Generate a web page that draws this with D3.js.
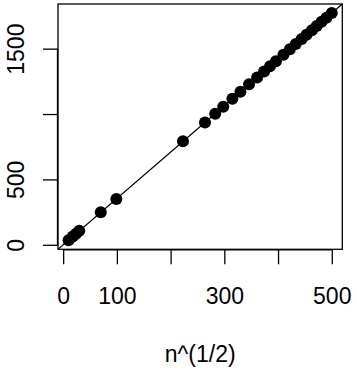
<!DOCTYPE html>
<html>
<head>
<meta charset="utf-8">
<script src="https://cdn.jsdelivr.net/npm/d3@7"></script>
<style>
  body { margin: 0; background: #fff; }
  text { font-family: "Liberation Sans", Arial, sans-serif; fill: #000; }
</style>
</head>
<body>
<svg id="chart" width="357" height="374"></svg>
<script>
// points
const xVals = [10, 18, 24, 30, 70, 99, 223, 264, 283, 298, 315, 330, 346, 361, 374,
  385, 396, 410, 422, 433, 444, 453, 463, 472, 481, 490, 500];
const yVals = [35, 64, 85, 108, 248, 351, 791, 936, 1003, 1056, 1117, 1170, 1227, 1280, 1326,
  1365, 1404, 1453, 1496, 1535, 1574, 1606, 1641, 1673, 1705, 1737, 1772];
const lineSlope = 3.545;  // reference line through origin
const xTicks = [0, 100, 200, 300, 400, 500];
const xTickLabels = ['0', '100', '', '300', '', '500'];
const yTicks = [0, 500, 1000, 1500];
const yTickLabels = ['0', '500', '', '1500'];
const xTitle = 'n^(1/2)';

const svg = d3.select('svg#chart');
const plotLeft = 58, plotRight = 342.3, plotTop = 4, plotBottom = 249.3;
const fontSize = 23;

// R-style 4% padding
function padded(ext) {
  const p = (ext[1] - ext[0]) * 0.04;
  return [ext[0] - p, ext[1] + p];
}

const x = d3.scaleLinear().domain(padded(d3.extent(xVals))).range([plotLeft, plotRight]);
const y = d3.scaleLinear().domain(padded(d3.extent(yVals))).range([plotBottom, plotTop]);

svg.append('defs').append('clipPath').attr('id', 'plotclip')
  .append('rect')
  .attr('x', plotLeft).attr('y', plotTop)
  .attr('width', plotRight - plotLeft).attr('height', plotBottom - plotTop);

// abline
const xd = x.domain();
svg.append('line')
  .attr('clip-path', 'url(#plotclip)')
  .attr('x1', x(xd[0])).attr('y1', y(xd[0] * lineSlope))
  .attr('x2', x(xd[1])).attr('y2', y(xd[1] * lineSlope))
  .attr('stroke', '#000')
  .attr('stroke-width', 1.2);

svg.selectAll('circle.pt').data(xVals).enter()
  .append('circle')
  .attr('class', 'pt')
  .attr('cx', d => x(d))
  .attr('cy', (d, i) => y(yVals[i]))
  .attr('r', 6)
  .attr('fill', '#000');

// box
svg.append('rect')
  .attr('x', plotLeft).attr('y', plotTop)
  .attr('width', plotRight - plotLeft).attr('height', plotBottom - plotTop)
  .attr('fill', 'none')
  .attr('stroke', '#000')
  .attr('stroke-width', 1.3);

// x axis
const xAxis = d3.axisBottom(x)
  .tickValues(xTicks)
  .tickFormat((d, i) => xTickLabels[i])
  .tickSize(15)
  .tickSizeOuter(0);
const gx = svg.append('g')
  .attr('transform', `translate(0,${plotBottom})`)
  .call(xAxis);
gx.select('.domain')
  .attr('d', `M${x(xTicks[0])},0.5H${x(xTicks[xTicks.length - 1])}`)
  .attr('stroke-width', 1.3);
gx.selectAll('.tick line').attr('stroke-width', 1.3);
gx.selectAll('.tick text')
  .attr('font-size', fontSize)
  .attr('font-family', '"Liberation Sans", Arial, sans-serif')
  .attr('dy', null)
  .attr('y', 304 - plotBottom);

// y axis
const yAxis = d3.axisLeft(y)
  .tickValues(yTicks)
  .tickFormat((d, i) => yTickLabels[i])
  .tickSize(15)
  .tickSizeOuter(0);
const gy = svg.append('g')
  .attr('transform', `translate(${plotLeft},0)`)
  .call(yAxis);
gy.select('.domain')
  .attr('d', `M-0.5,${y(yTicks[0])}V${y(yTicks[yTicks.length - 1])}`)
  .attr('stroke-width', 1.3);
gy.selectAll('.tick line').attr('stroke-width', 1.3);
gy.selectAll('.tick text')
  .attr('font-size', fontSize)
  .attr('font-family', '"Liberation Sans", Arial, sans-serif')
  .attr('text-anchor', 'middle')
  .attr('x', null).attr('dy', null)
  .attr('transform', `translate(${23.5 - plotLeft},0) rotate(-90)`);

svg.append('text')
  .attr('x', (plotLeft + plotRight) / 2)
  .attr('y', 362)
  .attr('text-anchor', 'middle')
  .attr('font-size', fontSize)
  .text(xTitle);
</script>
</body>
</html>
